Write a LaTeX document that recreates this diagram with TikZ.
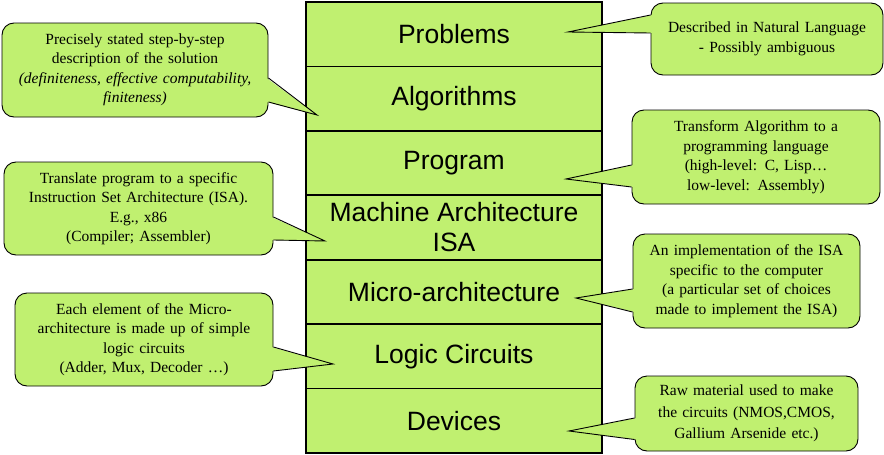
\documentclass[tikz,border=0pt]{standalone}
\usepackage{fontspec}
\setmainfont{Liberation Serif}
\setsansfont{Liberation Sans}
\usetikzlibrary{calc,positioning}
\definecolor{leaf}{RGB}{192,240,112}

\begin{document}
\begin{tikzpicture}[x=1pt,y=-1pt,
  layer/.style={draw=black, line width=1.8pt, fill=leaf, minimum width=296pt,
    minimum height=64.43pt, inner sep=0pt, outer sep=0pt, align=center,
    font=\sffamily\fontsize{26.5}{30}\selectfont},
  bubble/.style={draw=black, line width=0.9pt, fill=leaf, rounded corners=12pt,
    inner xsep=4pt, inner ysep=0pt, align=center,
    font=\fontsize{15.5}{19.5}\selectfont},
  wedge/.style={fill=leaf},
  wedgeline/.style={draw=black, line width=0.9pt}]

 \useasboundingbox (0,0) rectangle (884,455);

 % the layers
 \node[layer, anchor=north west] (prob) at (306,2) {Problems};
 \node[layer, below=0pt of prob] (algo) {Algorithms};
 \node[layer, below=0pt of algo] (prog) {Program};
 \node[layer, below=0pt of prog] (isa) {Machine Architecture\\ISA};
 \node[layer, below=0pt of isa] (micro) {Micro-architecture};
 \node[layer, below=0pt of micro] (logic) {Logic Circuits};
 \node[layer, below=0pt of logic] (dev) {Devices};


 % left side
 \node[bubble, minimum width=266pt, minimum height=94pt, text width=258pt] (algodesc) at (135,70)
  {Precisely stated step-by-step\\ description of the solution\\
   \textit{(definiteness, effective computability,}\\ \textit{finiteness)}};
 \coordinate (algotip) at (317,115);
 \fill[wedge] ($(algodesc.east)+(-2,8)$) -- (algotip) -- ($(algodesc.east)+(-2,32)$);
 \draw[wedgeline] ($(algodesc.east)+(0,8)$) -- (algotip) -- ($(algodesc.east)+(0,32)$);

 \node[bubble, minimum width=269pt, minimum height=93pt, text width=261pt] (isadesc) at (138.5,208.5)
  {Translate program to a specific\\ Instruction Set Architecture (ISA).\\
   E.g., x86\\ (Compiler; Assembler)};
 \coordinate (isatip) at (325,241);
 \fill[wedge] ($(isadesc.east)+(-2,8.5)$) -- (isatip) -- ($(isadesc.east)+(-2,31.5)$);
 \draw[wedgeline] ($(isadesc.east)+(0,8.5)$) -- (isatip) -- ($(isadesc.east)+(0,31.5)$);

 \node[bubble, minimum width=258pt, minimum height=93pt, text width=250pt] (logicdesc) at (144,339.5)
  {Each element of the Micro-\\ architecture is made up of simple\\
   logic circuits\\ (Adder, Mux, Decoder …)};
 \coordinate (logictip) at (333,364);
 \fill[wedge] ($(logicdesc.east)+(-2,7.5)$) -- (logictip) -- ($(logicdesc.east)+(-2,31.5)$);
 \draw[wedgeline] ($(logicdesc.east)+(0,7.5)$) -- (logictip) -- ($(logicdesc.east)+(0,31.5)$);


 % right side
 \node[bubble, minimum width=232pt, minimum height=72pt, text width=224pt] (probdesc) at (767,39)
  {Described in Natural Language\\ - Possibly ambiguous};
 \coordinate (probtip) at (568,32);
 \fill[wedge] ($(probdesc.west)+(2,-24)$) -- (probtip) -- ($(probdesc.west)+(2,-6)$);
 \draw[wedgeline] ($(probdesc.west)+(0,-24)$) -- (probtip) -- ($(probdesc.west)+(0,-6)$);

 \node[bubble, minimum width=248pt, minimum height=94pt, text width=240pt] (progdesc) at (756,157)
  {Transform Algorithm to a\\ programming language\\
   (high-level: C, Lisp…\\ low-level: Assembly)};
 \coordinate (progtip) at (566,179);
 \fill[wedge] ($(progdesc.west)+(2,8)$) -- (progtip) -- ($(progdesc.west)+(2,30)$);
 \draw[wedgeline] ($(progdesc.west)+(0,8)$) -- (progtip) -- ($(progdesc.west)+(0,30)$);

 \node[bubble, minimum width=227pt, minimum height=94pt, text width=219pt] (microdesc) at (746.5,281)
  {An implementation of the ISA\\ specific to the computer\\
   (a particular set of choices\\ made to implement the ISA)};
 \coordinate (microtip) at (576,298);
 \fill[wedge] ($(microdesc.west)+(2,8)$) -- (microtip) -- ($(microdesc.west)+(2,31)$);
 \draw[wedgeline] ($(microdesc.west)+(0,8)$) -- (microtip) -- ($(microdesc.west)+(0,31)$);

 \node[bubble, minimum width=223pt, minimum height=75pt, text width=215pt,
   font=\fontsize{15.5}{21.5}\selectfont] (devdesc) at (746.5,413.5)
  {Raw material used to make\\ the circuits (NMOS,CMOS,\\ Gallium Arsenide etc.)};
 \coordinate (devtip) at (569,431);
 \fill[wedge] ($(devdesc.west)+(2,4.5)$) -- (devtip) -- ($(devdesc.west)+(2,26)$);
 \draw[wedgeline] ($(devdesc.west)+(0,4.5)$) -- (devtip) -- ($(devdesc.west)+(0,26)$);

\end{tikzpicture}
\end{document}
